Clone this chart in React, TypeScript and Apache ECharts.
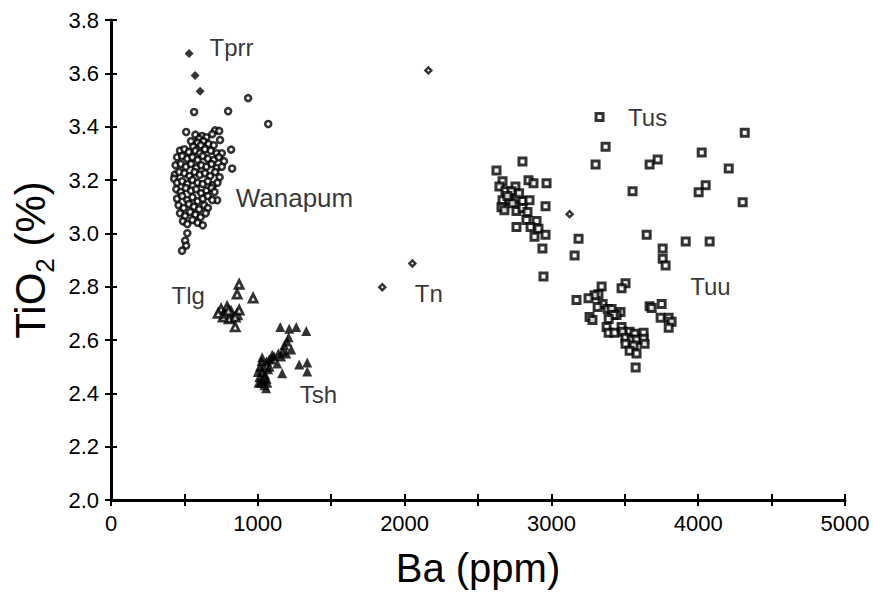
import React, { useEffect, useRef } from "react";
import * as echarts from "echarts";

// Ba (ppm), TiO2 (%)
const wanapum: [number, number][] = [
  [934, 3.507], [798, 3.458], [566, 3.455], [1071, 3.41], [512, 3.38], [709, 3.386], [737, 3.384], [743, 3.35], [818, 3.314],
  [575, 3.37], [620, 3.365], [650, 3.36], [600, 3.355], [690, 3.372], [545, 3.345],
  [590, 3.34], [630, 3.345], [665, 3.335], [700, 3.33], [560, 3.325], [612, 3.33],
  [470, 3.31], [500, 3.315], [530, 3.305], [575, 3.31], [605, 3.3], [640, 3.315], [680, 3.31], [720, 3.3], [755, 3.3],
  [450, 3.285], [485, 3.29], [520, 3.28], [555, 3.285], [590, 3.275], [625, 3.29], [660, 3.28], [700, 3.275], [735, 3.285], [770, 3.27],
  [440, 3.255], [475, 3.26], [510, 3.25], [545, 3.26], [580, 3.245], [615, 3.255], [650, 3.25], [685, 3.26], [720, 3.245], [755, 3.25], [825, 3.243],
  [435, 3.22], [465, 3.23], [500, 3.225], [535, 3.215], [570, 3.23], [605, 3.22], [640, 3.225], [675, 3.215], [710, 3.23], [740, 3.21],
  [430, 3.205], [450, 3.19], [485, 3.195], [520, 3.185], [555, 3.2], [590, 3.19], [625, 3.185], [660, 3.195], [695, 3.18], [725, 3.19],
  [445, 3.165], [475, 3.155], [510, 3.17], [545, 3.16], [580, 3.165], [615, 3.15], [650, 3.16], [685, 3.17], [705, 3.155],
  [450, 3.13], [485, 3.14], [520, 3.125], [555, 3.135], [590, 3.12], [625, 3.13], [660, 3.14], [723, 3.124], [690, 3.125],
  [460, 3.105], [495, 3.095], [530, 3.11], [565, 3.1], [600, 3.09], [635, 3.105], [660, 3.095],
  [470, 3.075], [505, 3.065], [540, 3.08], [575, 3.07], [610, 3.06], [645, 3.075],
  [490, 3.045], [520, 3.035], [555, 3.05], [590, 3.04], [625, 3.03],
  [520, 3.0], [505, 2.972], [512, 2.954], [484, 2.935],
];

const tprr: [number, number][] = [[532, 3.674], [573, 3.592], [607, 3.533]];

const tn: [number, number][] = [[2162, 3.611], [2053, 2.887], [1848, 2.798], [3124, 3.072]];

const tlg: [number, number][] = [
  [873, 2.809], [859, 2.772], [968, 2.757], [750, 2.716], [791, 2.724], [818, 2.705], [777, 2.694], [805, 2.679],
  [859, 2.694], [873, 2.712], [846, 2.686], [764, 2.686], [846, 2.649], [730, 2.7], [800, 2.71],
];

const tsh: [number, number][] = [
  [1153, 2.649], [1214, 2.642], [1262, 2.649], [1330, 2.634], [1200, 2.594], [1228, 2.564], [1194, 2.549], [1159, 2.538],
  [1098, 2.545], [1132, 2.512], [1078, 2.527], [1282, 2.508], [1337, 2.516], [1337, 2.482], [1166, 2.475], [1057, 2.419],
  [1010, 2.46], [1020, 2.44], [1030, 2.48], [1040, 2.5], [1050, 2.47], [1060, 2.52], [1070, 2.49], [1015, 2.5], [1025, 2.52],
  [1035, 2.45], [1045, 2.43], [1060, 2.455], [1080, 2.5], [1090, 2.53], [1110, 2.54], [1140, 2.55], [1170, 2.56], [1000, 2.48],
  [1005, 2.44], [1030, 2.535], [1065, 2.44], [1180, 2.58], [1210, 2.61],
];

const tusTuu: [number, number][] = [
  [3328, 3.436], [3369, 3.325], [3301, 3.258], [3553, 3.158], [2626, 3.236], [2803, 3.269], [3724, 3.277], [3669, 3.258],
  [2667, 3.195], [2646, 3.176], [2755, 3.176], [2844, 3.199], [2878, 3.188], [2967, 3.188], [2687, 3.158], [2728, 3.158],
  [2667, 3.124], [2714, 3.124], [2762, 3.132], [2803, 3.121], [2851, 3.124], [2660, 3.098], [2680, 3.087], [2735, 3.113],
  [2762, 3.084], [2803, 3.095], [2837, 3.08], [2960, 3.102], [2830, 3.05], [2899, 3.046], [2858, 3.024], [2912, 3.017],
  [2762, 3.024], [2960, 2.995], [2885, 2.987], [3185, 2.98], [2939, 2.943], [3158, 2.917], [3649, 2.995], [3758, 2.943],
  [3758, 2.905], [3778, 2.879], [2946, 2.838], [4317, 3.377], [4024, 3.303], [4208, 3.243], [4051, 3.18], [4003, 3.154],
  [4303, 3.117], [3915, 2.969], [4078, 2.969], [2700, 3.14], [2780, 3.15],
  [3505, 2.813], [3478, 2.794], [3342, 2.801], [3321, 2.772], [3294, 2.768], [3253, 2.757], [3171, 2.75], [3349, 2.735],
  [3315, 2.724], [3383, 2.716], [3410, 2.716], [3471, 2.705], [3444, 2.694], [3424, 2.694], [3390, 2.679], [3260, 2.686],
  [3280, 2.675], [3669, 2.727], [3683, 2.72], [3751, 2.735], [3744, 2.683], [3799, 2.683], [3819, 2.668], [3799, 2.646],
  [3376, 2.649], [3390, 2.627], [3430, 2.627], [3478, 2.649], [3485, 2.631], [3533, 2.631], [3567, 2.623], [3628, 2.627],
  [3505, 2.608], [3546, 2.601], [3580, 2.601], [3628, 2.605], [3635, 2.586], [3505, 2.586], [3560, 2.579], [3533, 2.56],
  [3580, 2.549], [3574, 2.497],
];

const groupNames = ["Tprr", "Wanapum", "Tlg", "Tn", "Tsh", "Tus", "Tuu"];
const groupLabelBa = [668, 846, 409, 2066, 1282, 3519, 3942];
const groupLabelTiO2 = [3.696, 3.132, 2.768, 2.776, 2.397, 3.436, 2.801];

const xTicks = { min: 0, max: 5000, step: 500 };
const yTicks = { min: 2.0, max: 3.8, step: 0.2 };

const FONT = "Liberation Sans, Arial, sans-serif";

export default function App() {
  const ref = useRef<HTMLDivElement>(null);
  useEffect(() => {
    const chart = echarts.init(ref.current!, null, { renderer: "svg" });
    const axisLine = { show: true, onZero: false, lineStyle: { color: "#000", width: 3 } };
    const hiddenLine = { show: false, onZero: false };
    const tickStyle = { color: "#000", width: 2 };
    const baseX = {
      type: "value",
      min: xTicks.min,
      max: xTicks.max,
      interval: xTicks.step,
      splitLine: { show: false },
      position: "bottom",
      offset: 0,
    };
    const baseY = {
      type: "value",
      min: yTicks.min,
      max: yTicks.max,
      interval: yTicks.step,
      splitLine: { show: false },
      position: "left",
      offset: 0,
    };
    chart.setOption({
      animation: false,
      backgroundColor: "#fff",
      textStyle: { fontFamily: FONT },
      grid: { left: 111, right: 28, top: 20, bottom: 88, containLabel: false },
      xAxis: [
        {
          ...baseX,
          axisLine,
          axisTick: { show: true, length: 6, lineStyle: tickStyle },
          axisLabel: {
            fontSize: 22,
            color: "#000",
            margin: 12,
            fontFamily: FONT,
            formatter: (v: number) => (v % 1000 === 0 ? String(v) : ""),
          },
          name: "Ba (ppm)",
          nameLocation: "middle",
          nameGap: 48,
          nameTextStyle: { fontSize: 40, color: "#000", fontFamily: FONT },
        },
        {
          ...baseX,
          axisLine: hiddenLine,
          axisTick: { show: true, inside: true, length: 6, lineStyle: tickStyle },
          axisLabel: { show: false },
        },
      ],
      yAxis: [
        {
          ...baseY,
          axisLine,
          axisTick: { show: true, length: 6, lineStyle: tickStyle },
          axisLabel: {
            fontSize: 22,
            color: "#000",
            margin: 12,
            fontFamily: FONT,
            formatter: (v: number) => v.toFixed(1),
          },
          name: "{a|TiO}{b|2}{a| (%)}",
          nameLocation: "middle",
          nameGap: 38,
          nameTextStyle: {
            color: "#000",
            fontFamily: FONT,
            rich: {
              a: { fontSize: 42, lineHeight: 46, verticalAlign: "top", color: "#000", fontFamily: FONT },
              b: { fontSize: 26, lineHeight: 26, verticalAlign: "top", padding: [22, 0, 0, 0], color: "#000", fontFamily: FONT },
            },
          },
        },
        {
          ...baseY,
          axisLine: hiddenLine,
          axisTick: { show: true, inside: true, length: 6, lineStyle: tickStyle },
          axisLabel: { show: false },
        },
      ],
      series: [
        {
          type: "scatter",
          data: wanapum,
          symbol: "circle",
          symbolSize: 6,
          itemStyle: { color: "#fff", borderColor: "#000", borderWidth: 2.6 },
        },
        {
          type: "scatter",
          data: tprr,
          symbol: "diamond",
          symbolSize: 9,
          itemStyle: { color: "#000" },
        },
        {
          type: "scatter",
          data: tn,
          symbol: "diamond",
          symbolSize: 6,
          itemStyle: { color: "#fff", borderColor: "#000", borderWidth: 2.4 },
        },
        {
          type: "scatter",
          data: tlg,
          symbol: "triangle",
          symbolSize: 8,
          itemStyle: { color: "#fff", borderColor: "#000", borderWidth: 2.8 },
        },
        {
          type: "scatter",
          data: tsh,
          symbol: "triangle",
          symbolSize: 10,
          itemStyle: { color: "#000" },
        },
        {
          type: "scatter",
          data: tusTuu,
          symbol: "rect",
          symbolSize: 7,
          itemStyle: { color: "#fff", borderColor: "#000", borderWidth: 3 },
        },
        {
          type: "scatter",
          silent: true,
          symbolSize: 1,
          itemStyle: { color: "rgba(0,0,0,0)" },
          label: {
            show: true,
            position: "right",
            distance: 0,
            formatter: "{b}",
            color: "#000",
            fontFamily: FONT,
            fontSize: 24,
          },
          data: groupNames.map((n, i) => ({
            name: n,
            value: [groupLabelBa[i], groupLabelTiO2[i]],
            label: n === "Wanapum" ? { fontSize: 26 } : undefined,
          })),
        },
      ],
    });
    return () => chart.dispose();
  }, []);
  return <div ref={ref} style={{ position: "absolute", left: 0, top: 0, width: 873, height: 593 }} />;
}
